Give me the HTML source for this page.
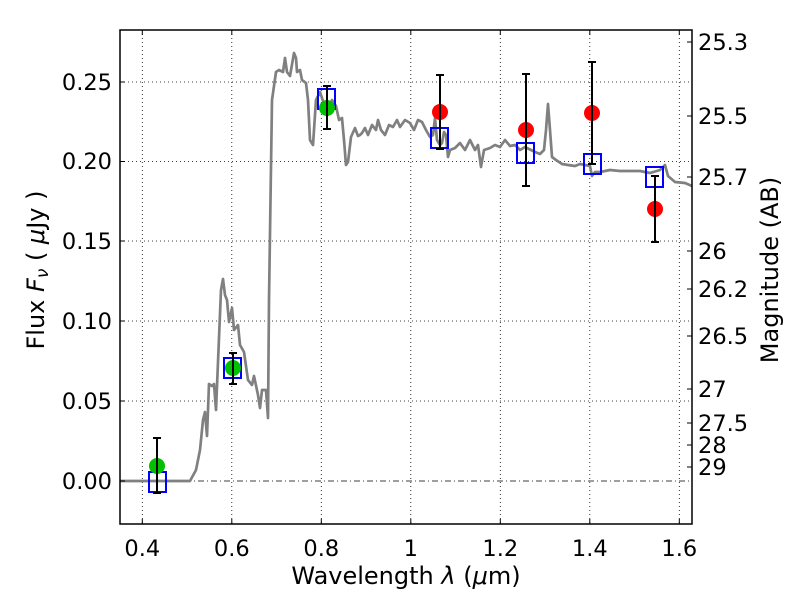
<!DOCTYPE html>
<html><head><meta charset="utf-8"><style>
html,body{margin:0;padding:0;background:#fff;}
svg text{font-family:"DejaVu Sans","Liberation Sans",sans-serif;}
</style></head><body>
<svg width="800" height="600" viewBox="0 0 800 600" xmlns="http://www.w3.org/2000/svg">
<rect width="800" height="600" fill="#fff"/>
<g stroke="#000" stroke-width="0.8" stroke-dasharray="1,3" fill="none">
<line x1="142.3" y1="30" x2="142.3" y2="524"/>
<line x1="231.8" y1="30" x2="231.8" y2="524"/>
<line x1="321.3" y1="30" x2="321.3" y2="524"/>
<line x1="410.8" y1="30" x2="410.8" y2="524"/>
<line x1="500.3" y1="30" x2="500.3" y2="524"/>
<line x1="589.8" y1="30" x2="589.8" y2="524"/>
<line x1="679.3" y1="30" x2="679.3" y2="524"/>
<line x1="120" y1="82" x2="692" y2="82"/>
<line x1="120" y1="161.5" x2="692" y2="161.5"/>
<line x1="120" y1="241" x2="692" y2="241"/>
<line x1="120" y1="321" x2="692" y2="321"/>
<line x1="120" y1="401" x2="692" y2="401"/>
</g>
<line x1="120" y1="481" x2="692" y2="481" stroke="#000" stroke-width="0.8" stroke-dasharray="6,3,1,3"/>
<polyline fill="none" stroke="#808080" stroke-width="2.7" stroke-linejoin="round" points="120,481 190,481 196,470 200,450 203,420 205,412 207,436 209,384 212,386 214,384 216,410 221,290 223,279 225,295 227,300 229,322 232,308 234,330 238,325 240,345 244,352 248,380 252,385 254,376 258,395 260,408 262,390 266,390 268,418 269,300 272,100 276,72 279,70 283,72 285,58 287,72 290,76 294,53 296,58 297,72 300,70 302,80 306,83 308,100 310,140 313,145 316,100 320,92 324,104 328,110 332,100 336,106 339,120 342,118 344,140 346,165 348,162 351,137 355,128 358,136 360,135 362,133 365,128 368,135 372,125 376,130 378,120 381,130 385,135 389,125 393,127 397,120 400,127 405,120 410,123 414,130 418,120 422,122 426,130 430,137 433,135 435,118 437,140 440,145 442,143 444,132 446,135 448,157 450,150 455,148 460,143 465,150 470,140 475,150 478,145 481,167 484,150 490,148 495,145 500,147 505,140 510,146 515,145 520,150 525,147 535,152 540,154 544,150 546,130 548,104 550,130 552,157 556,160 562,164 568,165 575,166 580,164 585,165 590,166 592,176 595,172 600,172 610,170 620,171 630,171 640,171 650,173 660,170 665,165 668,176 675,182 685,183 692,186"/>
<g fill="none" stroke="#0000ff" stroke-width="2">
<rect x="149" y="472" width="17" height="20"/>
<rect x="224" y="358" width="17" height="20"/>
<rect x="318" y="89" width="17" height="20"/>
<rect x="431" y="128" width="17" height="20"/>
<rect x="517" y="143" width="17" height="20"/>
<rect x="584" y="154" width="17" height="20"/>
<rect x="646" y="167" width="17" height="20"/>
</g>
<g fill="#00c000">
<circle cx="157" cy="466" r="8"/>
<circle cx="233" cy="368" r="8"/>
<circle cx="327" cy="108" r="8"/>
</g>
<g fill="#ff0000">
<circle cx="440" cy="112" r="8"/>
<circle cx="526" cy="130" r="8"/>
<circle cx="592" cy="113" r="8"/>
<circle cx="655" cy="209" r="8"/>
</g>
<g stroke="#000" stroke-width="2">
<line x1="157" y1="438" x2="157" y2="493"/><line x1="153" y1="438" x2="161" y2="438"/><line x1="153" y1="493" x2="161" y2="493"/>
<line x1="233" y1="353" x2="233" y2="384"/><line x1="229" y1="353" x2="237" y2="353"/><line x1="229" y1="384" x2="237" y2="384"/>
<line x1="327" y1="86" x2="327" y2="129"/><line x1="323" y1="86" x2="331" y2="86"/><line x1="323" y1="129" x2="331" y2="129"/>
<line x1="440" y1="75" x2="440" y2="149"/><line x1="436" y1="75" x2="444" y2="75"/><line x1="436" y1="149" x2="444" y2="149"/>
<line x1="526" y1="74" x2="526" y2="186"/><line x1="522" y1="74" x2="530" y2="74"/><line x1="522" y1="186" x2="530" y2="186"/>
<line x1="592" y1="62" x2="592" y2="164"/><line x1="588" y1="62" x2="596" y2="62"/><line x1="588" y1="164" x2="596" y2="164"/>
<line x1="655" y1="176" x2="655" y2="242"/><line x1="651" y1="176" x2="659" y2="176"/><line x1="651" y1="242" x2="659" y2="242"/>
</g>
<rect x="120" y="30" width="572" height="494" fill="none" stroke="#000" stroke-width="1.5"/>
<g stroke="#000" stroke-width="1">
<line x1="142.3" y1="524" x2="142.3" y2="519"/><line x1="231.8" y1="524" x2="231.8" y2="519"/><line x1="321.3" y1="524" x2="321.3" y2="519"/><line x1="410.8" y1="524" x2="410.8" y2="519"/><line x1="500.3" y1="524" x2="500.3" y2="519"/><line x1="589.8" y1="524" x2="589.8" y2="519"/><line x1="679.3" y1="524" x2="679.3" y2="519"/>
<line x1="142.3" y1="30" x2="142.3" y2="35"/><line x1="231.8" y1="30" x2="231.8" y2="35"/><line x1="321.3" y1="30" x2="321.3" y2="35"/><line x1="410.8" y1="30" x2="410.8" y2="35"/><line x1="500.3" y1="30" x2="500.3" y2="35"/><line x1="589.8" y1="30" x2="589.8" y2="35"/><line x1="679.3" y1="30" x2="679.3" y2="35"/>
<line x1="120" y1="82" x2="125" y2="82"/><line x1="120" y1="161.5" x2="125" y2="161.5"/><line x1="120" y1="241" x2="125" y2="241"/><line x1="120" y1="321" x2="125" y2="321"/><line x1="120" y1="401" x2="125" y2="401"/><line x1="120" y1="481" x2="125" y2="481"/>
<line x1="692" y1="42" x2="687" y2="42"/><line x1="692" y1="116" x2="687" y2="116"/><line x1="692" y1="177" x2="687" y2="177"/><line x1="692" y1="251" x2="687" y2="251"/><line x1="692" y1="289" x2="687" y2="289"/><line x1="692" y1="336" x2="687" y2="336"/><line x1="692" y1="389" x2="687" y2="389"/><line x1="692" y1="423" x2="687" y2="423"/><line x1="692" y1="445" x2="687" y2="445"/><line x1="692" y1="467" x2="687" y2="467"/>
</g>
<g font-size="22.5" fill="#000">
<g text-anchor="middle">
<text x="142.3" y="556">0.4</text><text x="231.8" y="556">0.6</text><text x="321.3" y="556">0.8</text><text x="410.8" y="556">1</text><text x="500.3" y="556">1.2</text><text x="589.8" y="556">1.4</text><text x="679.3" y="556">1.6</text>
</g>
<g text-anchor="end">
<text x="112" y="90">0.25</text><text x="112" y="169">0.20</text><text x="112" y="249">0.15</text><text x="112" y="329">0.10</text><text x="112" y="409">0.05</text><text x="112" y="489">0.00</text>
</g>
<g text-anchor="start">
<text x="698" y="50">25.3</text><text x="698" y="124">25.5</text><text x="698" y="185">25.7</text><text x="698" y="259">26</text><text x="698" y="297">26.2</text><text x="698" y="344">26.5</text><text x="698" y="397">27</text><text x="698" y="431">27.5</text><text x="698" y="453">28</text><text x="698" y="475">29</text>
</g>
</g>
<g font-size="24" fill="#000">
<text x="406" y="584" text-anchor="middle">Wavelength  <tspan font-style="italic">λ</tspan> (<tspan font-style="italic">μ</tspan>m)</text>
<text transform="translate(44,270) rotate(-90)" text-anchor="middle">Flux  <tspan font-style="italic">F<tspan font-size="17" dy="4">ν</tspan></tspan><tspan dy="-4">   ( </tspan><tspan font-style="italic">μ</tspan>Jy )</text>
<text transform="translate(778,270) rotate(-90)" text-anchor="middle">Magnitude (AB)</text>
</g>
</svg>
</body></html>
